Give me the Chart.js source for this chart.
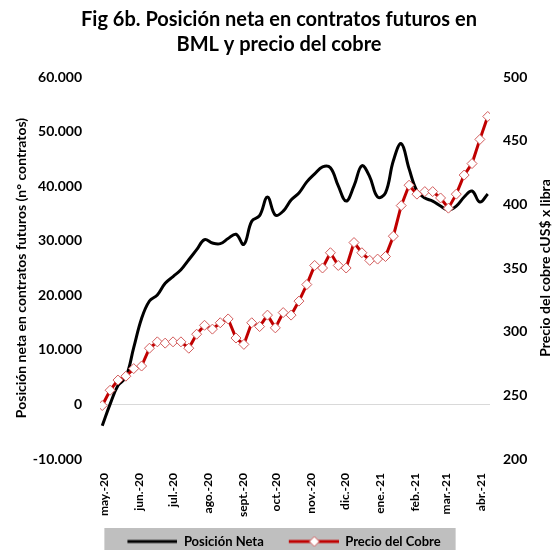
<!DOCTYPE html>
<html lang="es">
<head>
<meta charset="UTF-8">
<title>Fig 6b</title>
<style>
  body { margin: 0; background: #fff; }
  .chartBox { position: relative; width: 558px; height: 550px; }
</style>
</head>
<body>
<div class="chartBox"><canvas id="chart"></canvas></div>
<script src="https://cdn.jsdelivr.net/npm/chart.js"></script>
<script>
// weekly observations (Wednesdays)
const weekDates = [
  '2020-04-29', '2020-05-06', '2020-05-13', '2020-05-20', '2020-05-27',
  '2020-06-03', '2020-06-10', '2020-06-17', '2020-06-24', '2020-07-01',
  '2020-07-08', '2020-07-15', '2020-07-22', '2020-07-29', '2020-08-05',
  '2020-08-12', '2020-08-19', '2020-08-26', '2020-09-02', '2020-09-09',
  '2020-09-16', '2020-09-23', '2020-09-30', '2020-10-07', '2020-10-14',
  '2020-10-21', '2020-10-28', '2020-11-04', '2020-11-11', '2020-11-18',
  '2020-11-25', '2020-12-02', '2020-12-09', '2020-12-16', '2020-12-23',
  '2020-12-30', '2021-01-06', '2021-01-13', '2021-01-20', '2021-01-27',
  '2021-02-03', '2021-02-10', '2021-02-17', '2021-02-24', '2021-03-03',
  '2021-03-10', '2021-03-17', '2021-03-24', '2021-03-31', '2021-04-07'
];

// Posición neta (n° contratos)
const netPosition = [
  -3900, 50, 3450, 4980, 10400, 15740, 18950, 20050, 22200, 23430,
  24670, 26510, 28360, 30200, 29580, 29460, 30390, 31180, 29330, 33580,
  34590, 38000, 34690, 35420, 37450, 38750, 40780, 42250, 43540, 43360,
  40040, 37270, 40040, 43730, 41700, 38010, 38750, 44650, 47790, 43170,
  39110, 37820, 37270, 36350, 35610, 36350, 38010, 39110, 37080, 38560
];

// Precio del cobre (cUS$ x libra)
const copperPrice = [
  242, 254, 262, 265, 271, 273, 287, 292, 291, 292,
  292, 287, 298, 305, 302, 307, 310, 295, 290, 307,
  304, 313, 303, 315, 313, 324, 337, 352, 350, 362,
  352, 350, 370, 362, 356, 357, 359, 375, 399, 415,
  408, 410, 410, 405, 397, 408, 423, 432, 451, 469
];

const monthStarts = [
  '2020-05-01', '2020-06-01', '2020-07-01', '2020-08-01', '2020-09-01', '2020-10-01',
  '2020-11-01', '2020-12-01', '2021-01-01', '2021-02-01', '2021-03-01', '2021-04-01'
];
const monthLabels = [
  'may.-20', 'jun.-20', 'jul.-20', 'ago.-20', 'sept.-20', 'oct.-20',
  'nov.-20', 'dic.-20', 'ene.-21', 'feb.-21', 'mar.-21', 'abr.-21'
];

const seriesNames = ['Posición Neta', 'Precio del Cobre'];

const FONT = 'Lato, "Open Sans", sans-serif';
const RED = '#c00000';
const DIAMOND = '#d25c5c';

const origin = Date.UTC(2020, 3, 29);
function dayOf(s) {
  const p = s.split('-').map(Number);
  return (Date.UTC(p[0], p[1] - 1, p[2]) - origin) / 86400000;
}
const xs = weekDates.map(dayOf);
const monthDays = monthStarts.map(dayOf);

function fmtThousands(v) {
  const s = Math.abs(v).toString().replace(/\B(?=(\d{3})+(?!\d))/g, '.');
  return (v < 0 ? '-' : '') + s;
}

// legend symbols (10px empty margin on the left to widen the gap between items)
function legendSymbol(withDiamond) {
  const c = document.createElement('canvas');
  c.width = 60; c.height = 14;
  const g = c.getContext('2d');
  g.strokeStyle = withDiamond ? RED : '#000';
  g.lineWidth = 3;
  g.beginPath(); g.moveTo(10, 7); g.lineTo(60, 7); g.stroke();
  if (withDiamond) {
    g.fillStyle = '#fff';
    g.strokeStyle = DIAMOND;
    g.lineWidth = 1;
    g.beginPath();
    g.moveTo(35.5, 2); g.lineTo(40.5, 7); g.lineTo(35.5, 12); g.lineTo(30.5, 7); g.closePath();
    g.fill(); g.stroke();
  }
  return c;
}
const symbols = [legendSymbol(false), legendSymbol(true)];

// grey box behind the legend + right axis title reading upwards
const extras = {
  id: 'extras',
  beforeDraw(chart) {
    const boxes = chart.legend && chart.legend.legendHitBoxes;
    if (!boxes || !boxes.length) return;
    const ctx = chart.ctx;
    const left = Math.min(...boxes.map(b => b.left)) + 10 - 23;
    const right = Math.max(...boxes.map(b => b.left + b.width)) + 15;
    const top = Math.min(...boxes.map(b => b.top)) - 7;
    ctx.save();
    ctx.fillStyle = '#bfbfbf';
    ctx.fillRect(left, top, right - left, chart.height - top);
    ctx.restore();
  },
  afterDraw(chart) {
    const ctx = chart.ctx;
    const area = chart.chartArea;
    ctx.save();
    ctx.translate(545, (area.top + area.bottom) / 2);
    ctx.rotate(-Math.PI / 2);
    ctx.font = 'bold 14px ' + FONT;
    ctx.fillStyle = '#000';
    ctx.textAlign = 'center';
    ctx.textBaseline = 'middle';
    ctx.fillText('Precio del cobre cUS$ x libra', 0, 0);
    ctx.restore();
  }
};

new Chart(document.getElementById('chart'), {
  type: 'line',
  data: {
    datasets: [
      {
        label: seriesNames[0],
        data: xs.map((x, i) => ({ x: x, y: netPosition[i] })),
        yAxisID: 'y',
        borderColor: '#000',
        borderWidth: 3,
        pointRadius: 0,
        tension: 0.4,
        order: 2
      },
      {
        label: seriesNames[1],
        data: xs.map((x, i) => ({ x: x, y: copperPrice[i] })),
        yAxisID: 'y1',
        borderColor: RED,
        borderWidth: 3,
        pointStyle: 'rectRot',
        pointRadius: 5,
        pointBackgroundColor: '#fff',
        pointBorderColor: DIAMOND,
        pointBorderWidth: 1,
        tension: 0,
        order: 1
      }
    ]
  },
  plugins: [extras],
  options: {
    responsive: true,
    maintainAspectRatio: false,
    animation: false,
    layout: { padding: { left: 0, right: 0, top: 0, bottom: -8 } },
    plugins: {
      tooltip: { enabled: false },
      title: {
        display: true,
        text: ['Fig 6b. Posición neta en contratos futuros en', 'BML y precio del cobre'],
        color: '#000',
        font: { family: FONT, size: 20, weight: 'bold', lineHeight: 1.25 },
        padding: { top: 7, bottom: 20 }
      },
      legend: {
        position: 'bottom',
        labels: {
          color: '#000',
          font: { family: FONT, size: 13, weight: 'bold' },
          usePointStyle: true,
          pointStyleWidth: 60,
          padding: 15,
          generateLabels: () => seriesNames.map((name, i) => ({
            text: name,
            pointStyle: symbols[i],
            fillStyle: 'transparent',
            strokeStyle: 'transparent',
            lineWidth: 0,
            datasetIndex: i,
            hidden: false
          }))
        }
      }
    },
    scales: {
      x: {
        type: 'linear',
        min: -2,
        max: 345,
        afterFit: s => { s.height = 61; },
        afterBuildTicks: s => { s.ticks = monthDays.map(v => ({ value: v })); },
        grid: { display: false },
        border: { display: false },
        ticks: {
          autoSkip: false,
          minRotation: 90,
          maxRotation: 90,
          padding: 6,
          color: '#000',
          font: { family: FONT, size: 12, weight: 'bold' },
          callback: (v, i) => monthLabels[i]
        }
      },
      y: {
        position: 'left',
        min: -10000,
        max: 60000,
        afterFit: s => { s.width = 100; },
        grid: {
          drawTicks: false,
          color: c => (c.tick && c.tick.value === 0 ? '#d9d9d9' : 'rgba(0,0,0,0)')
        },
        border: { display: false },
        ticks: {
          stepSize: 10000,
          padding: 18,
          color: '#000',
          font: { family: FONT, size: 14, weight: 'bold' },
          callback: v => fmtThousands(v)
        },
        title: {
          display: true,
          text: 'Posición neta en contratos futuros (n° contratos)',
          color: '#000',
          font: { family: FONT, size: 14, weight: 'bold' },
          padding: { top: 13, bottom: 0 }
        }
      },
      y1: {
        position: 'right',
        min: 200,
        max: 500,
        afterFit: s => { s.width = 68; },
        grid: { display: false, drawTicks: false },
        border: { display: false },
        ticks: {
          stepSize: 50,
          padding: 13,
          color: '#000',
          font: { family: FONT, size: 14, weight: 'bold' }
        }
      }
    }
  }
});
</script>
</body>
</html>
